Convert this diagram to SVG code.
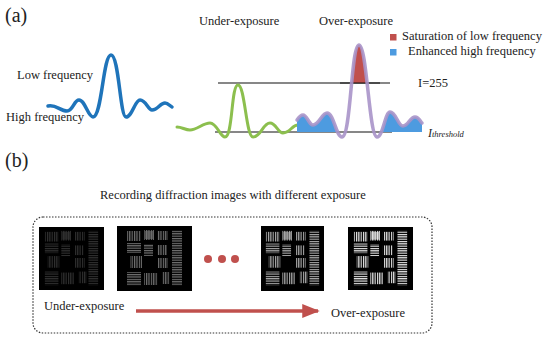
<svg xmlns="http://www.w3.org/2000/svg" xmlns:xlink="http://www.w3.org/1999/xlink" width="550" height="340" viewBox="0 0 550 340">
<style>
text{font-family:"Liberation Serif","Times New Roman",serif;fill:#222}
.lbl{font-size:20px}
.t{font-size:12.5px}
.ln{stroke:#111;stroke-width:1.2;fill:none}
.red{fill:#c0504d}
.blu{fill:#4d9be0}
</style>
<defs>
<pattern id="vs" width="2.4" height="3" patternUnits="userSpaceOnUse"><rect width="1.2" height="3" fill="#fff"/></pattern>
<pattern id="hs" width="3" height="2.4" patternUnits="userSpaceOnUse"><rect width="3" height="1.2" fill="#fff"/></pattern>
<filter id="soft" x="-5%" y="-5%" width="110%" height="110%"><feGaussianBlur stdDeviation="0.35"/></filter>
<symbol id="chart" viewBox="0 0 65 65">
<g filter="url(#soft)">
<rect x="5" y="5" width="14" height="10" fill="url(#vs)"/>
<rect x="5" y="17" width="14" height="10" fill="url(#hs)"/>
<rect x="22" y="4" width="10" height="10" fill="url(#vs)"/>
<rect x="23" y="5" width="8" height="8" fill="#fff" opacity="0.6"/>
<rect x="35" y="5" width="11" height="9" fill="url(#vs)"/>
<rect x="50" y="4" width="10" height="56" fill="url(#hs)"/>
<rect x="22" y="18" width="9" height="12" fill="url(#hs)"/>
<rect x="35" y="19" width="10" height="10" fill="url(#vs)"/>
<rect x="36" y="32" width="10" height="10" fill="url(#vs)"/>
<rect x="40" y="46" width="8" height="12" fill="url(#vs)"/>
<rect x="8" y="30" width="12" height="12" fill="url(#vs)"/>
<rect x="5" y="46" width="14" height="14" fill="url(#hs)"/>
<rect x="22" y="47" width="14" height="12" fill="url(#vs)"/>
</g>
</symbol>
<clipPath id="cl"><rect x="290" y="0" width="50" height="132"/><rect x="380" y="0" width="50" height="132"/></clipPath>
<clipPath id="cr"><rect x="340" y="0" width="40" height="83"/></clipPath>
<marker id="ah" markerWidth="5" markerHeight="4" refX="4.5" refY="2" orient="auto" markerUnits="strokeWidth"><path d="M0,0 L5,2 L0,4 Z" fill="#c0504d"/></marker>
</defs>

<g id="panel-a">
<text class="lbl" x="5" y="22">(a)</text>
<g id="input-wave">
<text class="t" x="17" y="79">Low frequency</text>
<text class="t" x="6" y="121">High frequency</text>
<path d="M48,106 C56,104 60,111 67,111 C73,111 74,100 79,100 C85,100 88,117 93,117 C102,117 103,55 111,55 C119,55 120,117 126,117 C132,117 135,100 140,100 C146,100 148,110 152,110 C158,110 160,103 165,103 C168,103 170,106 172,107" fill="none" stroke="#1f74ba" stroke-width="3.5" stroke-linecap="round"/>
</g>
<g id="levels">
<line class="ln" x1="218" y1="83" x2="390" y2="83"/>
<line class="ln" x1="215" y1="132" x2="392" y2="132"/>
<text class="t" x="418" y="87">I=255</text>
<text x="428" y="137" style="font-style:italic;font-size:12px">I<tspan style="font-size:8.5px">threshold</tspan></text>
</g>
<g id="under-exposure">
<text class="t" x="199" y="25">Under-exposure</text>
<path d="M177,127 C182,127 185,130 190,130 C197,130 203,123 210,123 C217,123 220,137 225,137 C233,137 231,85 238,85 C245,85 246,137 253,137 C261,137 263,123 270,123 C276,123 278,133 283,133 C290,133 292,125 298,125" fill="none" stroke="#8cbf4e" stroke-width="3" stroke-linecap="round"/>
</g>
<g id="over-exposure">
<text class="t" x="319" y="25">Over-exposure</text>
<path class="blu" clip-path="url(#cl)" d="M297,132 L297,120 C299,117 301,115 303,115 C307,115 309,125 313,125 C319,125 322,113 327,113 C334,113 336,137 342,137 C351,137 351,45 359,45 C367,45 369,137 377,137 C383,137 385,112 390,112 C396,112 398,126 403,126 C408,126 410,117 415,117 C419,117 420,121 422,123 L422,132 Z"/>
<path class="red" clip-path="url(#cr)" d="M297,132 L297,120 C299,117 301,115 303,115 C307,115 309,125 313,125 C319,125 322,113 327,113 C334,113 336,137 342,137 C351,137 351,45 359,45 C367,45 369,137 377,137 C383,137 385,112 390,112 C396,112 398,126 403,126 C408,126 410,117 415,117 C419,117 420,121 422,123 L422,132 Z"/>
<line class="ln" x1="340" y1="83" x2="380" y2="83"/>
<path d="M297,120 C299,117 301,115 303,115 C307,115 309,125 313,125 C319,125 322,113 327,113 C334,113 336,137 342,137 C351,137 351,45 359,45 C367,45 369,137 377,137 C383,137 385,112 390,112 C396,112 398,126 403,126 C408,126 410,117 415,117 C419,117 420,121 422,123" fill="none" stroke="#a993c9" stroke-width="3.5" stroke-linecap="round" opacity="0.9"/>
</g>
<g id="legend">
<rect class="red" x="390" y="34" width="6.5" height="6.5"/>
<text class="t" x="402" y="40">Saturation of low frequency</text>
<rect class="blu" x="390" y="49" width="6.5" height="6.5"/>
<text class="t" x="408" y="55">Enhanced high frequency</text>
</g>
</g>

<g id="panel-b">
<text class="lbl" x="5" y="167">(b)</text>
<text class="t" x="100" y="199">Recording diffraction images with different exposure</text>
<rect id="frame" x="33" y="217" width="399" height="116" rx="10" fill="none" stroke="#333" stroke-width="1.2" stroke-dasharray="1.5 1.5"/>
<g id="img1"><rect x="39" y="227" width="65" height="63" fill="#000"/><use xlink:href="#chart" x="39" y="227" width="65" height="63" opacity="0.2"/></g>
<g id="img2"><rect x="117" y="226" width="75" height="65" fill="#000"/><use xlink:href="#chart" x="117" y="226" width="75" height="65" opacity="0.45"/></g>
<g id="dots"><circle class="red" cx="208" cy="259" r="4"/><circle class="red" cx="222" cy="259" r="4"/><circle class="red" cx="235" cy="259" r="4"/></g>
<g id="img3"><rect x="261" y="226" width="63" height="65" fill="#000"/><use xlink:href="#chart" x="261" y="226" width="63" height="65" opacity="0.7"/></g>
<g id="img4"><rect x="348" y="227" width="65" height="63" fill="#000"/><use xlink:href="#chart" x="348" y="227" width="65" height="63" opacity="0.95"/></g>
<text class="t" x="44" y="310">Under-exposure</text>
<text class="t" x="331" y="317">Over-exposure</text>
<g id="connectors"><line x1="136" y1="311" x2="318" y2="311" stroke="#c0504d" stroke-width="3.5" marker-end="url(#ah)"/></g>
</g>
</svg>
